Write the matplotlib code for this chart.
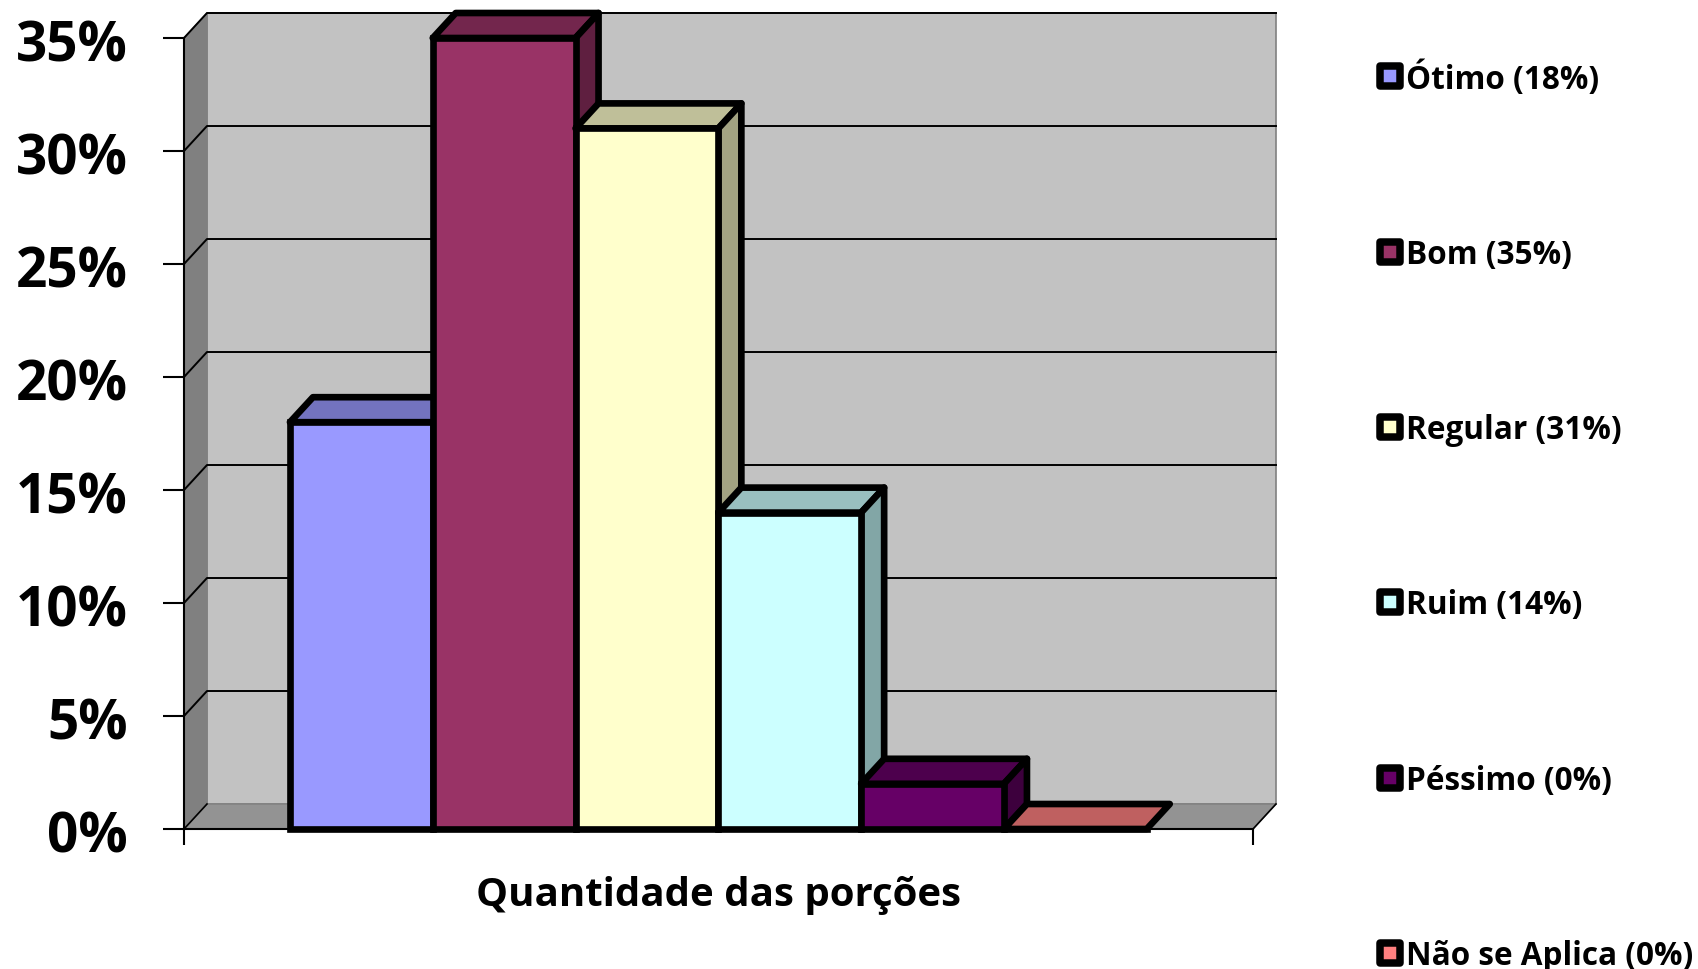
import matplotlib
matplotlib.use('Agg')
import matplotlib.pyplot as plt
from matplotlib.lines import Line2D
from matplotlib.markers import MarkerStyle
from matplotlib.transforms import ScaledTranslation

labels = ['Ótimo (18%)', 'Bom (35%)', 'Regular (31%)', 'Ruim (14%)', 'Péssimo (0%)', 'Não se Aplica (0%)']
values = [18, 35, 31, 14, 2, 0]
front_colors = ['#9999FF', '#993366', '#FFFFCC', '#CCFFFF', '#660066', '#FF8080']
top_colors = ['#7373BF', '#73264D', '#BFBF99', '#99BFBF', '#4D004D', '#BF6060']
side_colors = ['#5C5C99', '#5F1F40', '#A3A382', '#82A6A6', '#3D003D', '#995050']
y_ticks = [0, 5, 10, 15, 20, 25, 30, 35]
y_tick_labels = ['0%', '5%', '10%', '15%', '20%', '25%', '30%', '35%']
x_label = 'Quantidade das porções'

# axes limits, the bars are one unit wide
x_min = -0.742
x_max = 6.744
# how far the 3d box goes back, in data units
dx = 0.161
dy = 1.106

plt.rcParams['font.family'] = ['Open Sans', 'DejaVu Sans']
plt.rcParams['font.weight'] = 'bold'

W = 1698
H = 970
fig = plt.figure(figsize=(W / 100, H / 100), dpi=100)
ax = fig.add_axes([184 / W, (H - 830) / H, (1253 - 184) / W, (830 - 39) / H])
ax.set_xlim(x_min, x_max)
ax.set_ylim(0, 35)
ax.patch.set_visible(False)

# walls and floor
y_top = y_ticks[-1]
ax.fill([x_min + dx, x_max + dx, x_max + dx, x_min + dx],
        [dy, dy, y_top + dy, y_top + dy],
        facecolor='#C2C2C2', edgecolor='#808080', lw=1.2, clip_on=False, zorder=1)
ax.fill([x_min, x_min + dx, x_min + dx, x_min],
        [0, dy, y_top + dy, y_top],
        facecolor='#808080', edgecolor='#808080', lw=1, clip_on=False, zorder=1)
ax.fill([x_min, x_max, x_max + dx, x_min + dx],
        [0, 0, dy, dy],
        facecolor='#939393', edgecolor='#808080', lw=1, clip_on=False, zorder=1)

for t in y_ticks[1:]:
    ax.plot([x_min, x_min + dx, x_max + dx], [t, t + dy, t + dy],
            color='black', lw=1.4, clip_on=False, zorder=2)
ax.plot([x_min, x_min + dx], [0, dy], color='black', lw=1.2, clip_on=False, zorder=2)
ax.plot([x_max, x_max + dx], [0, dy], color='black', lw=1.2, clip_on=False, zorder=2)

# bars, left to right so that each one covers the side of the one before
bar_lw = 4.8
z = 3
for i in range(len(values)):
    v = values[i]
    ax.fill([i, i + 1, i + 1 + dx, i + dx], [v, v, v + dy, v + dy],
            facecolor=top_colors[i], edgecolor='black', lw=bar_lw,
            joinstyle='round', clip_on=False, zorder=z)
    if v > 0:
        ax.fill([i + 1, i + 1 + dx, i + 1 + dx, i + 1], [0, dy, v + dy, v],
                facecolor=side_colors[i], edgecolor='black', lw=bar_lw,
                joinstyle='round', clip_on=False, zorder=z)
        ax.bar(i, v, width=1, align='edge', color=front_colors[i], edgecolor='black',
               lw=bar_lw, joinstyle='miter', clip_on=False, zorder=z + 1)
    else:
        ax.plot([i, i + 1], [0, 0], color='black', lw=bar_lw, clip_on=False, zorder=z + 1)
    z = z + 2

for s in ['top', 'right']:
    ax.spines[s].set_visible(False)
ax.spines['left'].set_linewidth(1.5)
ax.spines['bottom'].set_linewidth(1.5)
ax.spines['left'].set_bounds(0, 35)

ax.set_yticks(y_ticks)
ax.set_yticklabels(y_tick_labels, fontsize=39.5, fontweight='bold')
ax.tick_params(axis='y', direction='out', length=15, width=1.5, pad=25.5)
# labels sit a little under their ticks
for t in ax.get_yticklabels():
    t.set_transform(t.get_transform() + ScaledTranslation(0, -0.8 / 72, fig.dpi_scale_trans))
ax.set_xticks([x_min, x_max])
ax.set_xticklabels(['', ''])
ax.tick_params(axis='x', direction='out', length=11.5, width=1.5)
ax.set_xlabel(x_label, fontsize=29, fontweight='bold', labelpad=18)

handles = []
for i in range(len(labels)):
    handles.append(Line2D([], [], linestyle='', marker=MarkerStyle('s', joinstyle='round'),
                          markersize=14, markerfacecolor=front_colors[i],
                          markeredgecolor='black', markeredgewidth=5.4, label=labels[i]))
fig.legend(handles=handles, loc='upper left', bbox_to_anchor=(1373 / W, 1 - 61 / H),
           bbox_transform=fig.transFigure, frameon=False, borderpad=0, borderaxespad=0,
           labelspacing=4.514, handletextpad=-0.05, handlelength=1.1,
           prop={'size': 22.7, 'weight': 'bold'})

fig.savefig('out.png', dpi=100)
